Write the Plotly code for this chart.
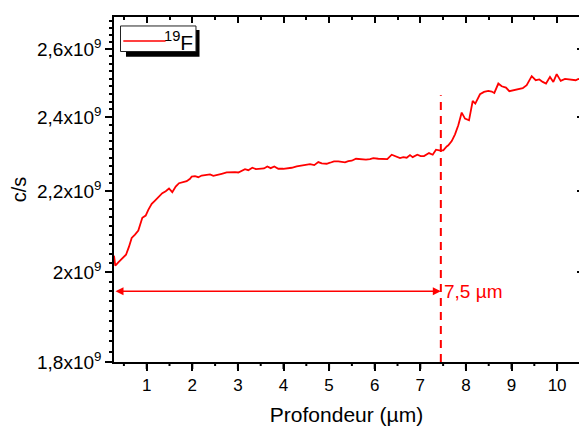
import numpy as np
import plotly.graph_objects as go

# ---- data ----
depth_um = [0.283, 0.311, 0.377, 0.474, 0.546, 0.612, 0.671, 0.743, 0.816, 0.904,
            0.978, 1.035, 1.110, 1.182, 1.254, 1.342, 1.417, 1.489, 1.561, 1.636,
            1.708, 1.781, 1.877, 1.950, 1.987, 2.059, 2.132, 2.206, 2.316, 2.388,
            2.461, 2.535, 2.645, 2.754, 2.827, 2.864, 2.936, 3.009, 3.083, 3.156,
            3.228, 3.316, 3.397, 3.485, 3.572, 3.645, 3.719, 3.798, 3.886, 3.996,
            4.105, 4.180, 4.289, 4.399, 4.493, 4.581, 4.675, 4.763, 4.838, 4.947,
            5.020, 5.107, 5.202, 5.349, 5.421, 5.496, 5.590, 5.678, 5.809, 5.897,
            5.969, 6.079, 6.189, 6.276, 6.373, 6.461, 6.555, 6.627, 6.702, 6.774,
            6.833, 6.934, 7.009, 7.081, 7.191, 7.272, 7.344, 7.417, 7.504, 7.579,
            7.614, 7.689, 7.761, 7.833, 7.908, 7.980, 8.068, 8.149, 8.206, 8.309,
            8.397, 8.491, 8.566, 8.623, 8.711, 8.785, 8.879, 8.952, 9.039, 9.149,
            9.246, 9.333, 9.443, 9.531, 9.610, 9.684, 9.757, 9.844, 9.917, 9.991,
            10.079, 10.173, 10.246, 10.333, 10.408, 10.465, 10.52]

counts_e9 = [2.0396, 2.0156, 2.0235, 2.0355, 2.0419, 2.0613, 2.0826, 2.0907, 2.1006, 2.1323,
             2.1381, 2.1525, 2.1676, 2.1761, 2.1846, 2.1950, 2.2001, 2.2071, 2.1975, 2.2123,
             2.2209, 2.2235, 2.2262, 2.2325, 2.2385, 2.2393, 2.2366, 2.2411, 2.2419, 2.2438,
             2.2404, 2.2419, 2.2457, 2.2491, 2.2499, 2.2491, 2.2499, 2.2491, 2.2525, 2.2578,
             2.2552, 2.2616, 2.2578, 2.2589, 2.2597, 2.2651, 2.2605, 2.2651, 2.2589, 2.2589,
             2.2597, 2.2616, 2.2651, 2.2670, 2.2686, 2.2712, 2.2686, 2.2766, 2.2731, 2.2723,
             2.2750, 2.2785, 2.2785, 2.2758, 2.2793, 2.2804, 2.2857, 2.2839, 2.2831, 2.2847,
             2.2873, 2.2857, 2.2847, 2.2847, 2.2965, 2.2919, 2.2873, 2.2900, 2.2884, 2.2954,
             2.2900, 2.2965, 2.2927, 2.2927, 2.3009, 2.2965, 2.3101, 2.3082, 2.3082, 2.3191,
             2.3219, 2.3337, 2.3521, 2.3772, 2.4131, 2.3961, 2.3913, 2.4462, 2.4388, 2.4657,
             2.4724, 2.4753, 2.4736, 2.4695, 2.4969, 2.4890, 2.4852, 2.4745, 2.4774, 2.4812,
             2.4832, 2.4920, 2.5186, 2.5067, 2.5088, 2.5017, 2.4969, 2.5165, 2.5017, 2.5246,
             2.5046, 2.5106, 2.5088, 2.5067, 2.5067, 2.5106, 2.5080]
counts = [v * 1e9 for v in counts_e9]

x_tickvals = [1, 2, 3, 4, 5, 6, 7, 8, 9, 10]
x_minor = [0.5, 1.5, 2.5, 3.5, 4.5, 5.5, 6.5, 7.5, 8.5, 9.5]
y_tickvals = [1.8e9, 2.0e9, 2.2e9, 2.4e9, 2.6e9]
y_ticktext = ["1,8x10<sup>9</sup>", "2x10<sup>9</sup>", "2,2x10<sup>9</sup>",
              "2,4x10<sup>9</sup>", "2,6x10<sup>9</sup>"]
x_range = [0.283, 10.48]
y_range = [1.8e9, 2.7e9]
y_minor = [1.8e9 + k * 0.2e9 / 9 for k in range(1, 41) if k % 9 != 0]

interface_depth = 7.45
interface_top = 2.463e9
arrow_level = 1.956e9
interface_label = "7,5 µm"
legend_label = "<sup>19</sup>F"
x_title = "Profondeur (µm)"
y_title = "c/s"

RED = "#FF0000"
FONT = "Arial, Liberation Sans, sans-serif"
log_range = [np.log10(y_range[0]), np.log10(y_range[1])]
PLOT_H = 426 - 17 - 64

fig = go.Figure()
fig.add_trace(go.Scatter(x=depth_um, y=counts, mode="lines",
                         line=dict(color=RED, width=1.8), showlegend=False,
                         hoverinfo="skip"))
fig.add_trace(go.Scatter(x=[interface_depth, interface_depth],
                         y=[y_range[0], interface_top], mode="lines",
                         line=dict(color=RED, width=2, dash="8px,6px"),
                         showlegend=False, hoverinfo="skip"))
# invisible carriers so that the extra tick axes get drawn
for xa, ya in [("x2", "y"), ("x4", "y"), ("x", "y2"), ("x", "y3")]:
    fig.add_trace(go.Scatter(x=depth_um, y=counts, xaxis=xa, yaxis=ya, mode="lines",
                             line=dict(width=0), opacity=0, showlegend=False,
                             hoverinfo="skip"))

# bottom-axis tick marks (outside, pointing down)
for xv in x_tickvals:
    fig.add_shape(type="line", xref="x", yref="paper", x0=xv, x1=xv,
                  y0=0, y1=-7 / PLOT_H, line=dict(color="black", width=2))
for xv in x_minor:
    fig.add_shape(type="line", xref="x", yref="paper", x0=xv, x1=xv,
                  y0=0, y1=-4 / PLOT_H, line=dict(color="black", width=2))

# double arrow
fig.add_annotation(x=interface_depth, y=np.log10(arrow_level), xref="x", yref="y",
                   ax=x_range[0], ay=np.log10(arrow_level), axref="x", ayref="y",
                   text="", showarrow=True, arrowhead=2, arrowside="end+start",
                   arrowsize=1, arrowwidth=1.6, arrowcolor=RED)
fig.add_annotation(x=interface_depth, y=np.log10(arrow_level), xref="x", yref="y",
                   text=interface_label, showarrow=False, xanchor="left",
                   yanchor="middle", xshift=1,
                   font=dict(family=FONT, size=19, color=RED))

# legend drawn by hand (with shadow)
fig.add_shape(type="rect", xref="paper", yref="paper", x0=0.0258, x1=0.1839,
              y0=0.885, y1=0.962, fillcolor="black", line=dict(width=0))
fig.add_shape(type="rect", xref="paper", yref="paper", x0=0.014, x1=0.1763,
              y0=0.900, y1=0.974, fillcolor="white", line=dict(color="#222", width=1))
fig.add_shape(type="line", xref="paper", yref="paper", x0=0.020, x1=0.111,
              y0=0.9304, y1=0.9304, line=dict(color=RED, width=1.6))
fig.add_annotation(x=0.1745, y=0.930, xref="paper", yref="paper", text=legend_label,
                   showarrow=False, xanchor="right", yanchor="middle",
                   font=dict(family=FONT, size=21, color="black"))

base = dict(showgrid=False, zeroline=False, automargin=False, tickcolor="black",
            tickwidth=2, linecolor="black", linewidth=1.5)

fig.update_layout(
    template="none",
    width=579, height=426,
    margin=dict(l=114, r=0, t=17, b=64),
    paper_bgcolor="white", plot_bgcolor="white",
    font=dict(family=FONT, color="black"),
    xaxis=dict(range=x_range, tickmode="array", tickvals=x_tickvals,
               ticks="outside", ticklen=7, showline=True,
               tickfont=dict(size=17), title=dict(text=x_title, font=dict(size=21),
                                                   standoff=21),
               **base),
    xaxis2=dict(range=x_range, overlaying="x", side="top", anchor="y",
                tickmode="array", tickvals=x_tickvals, ticks="inside", ticklen=6,
                showticklabels=False, showline=True, **base),
    xaxis4=dict(range=x_range, overlaying="x", side="top", anchor="y",
                tickmode="array", tickvals=x_minor, ticks="inside", ticklen=3,
                showticklabels=False, showline=False, **base),
    yaxis=dict(type="log", range=log_range,
               tickmode="array", tickvals=y_tickvals, ticktext=y_ticktext,
               ticks="outside", ticklen=7, showline=True,
               tickfont=dict(size=19), title=dict(text=y_title, font=dict(size=20),
                                                   standoff=5),
               **base),
    yaxis2=dict(type="log", range=log_range,
                overlaying="y", side="right", anchor="x", tickmode="array",
                tickvals=y_tickvals, ticks="inside", ticklen=2,
                showticklabels=False, showline=False, **base),
    yaxis3=dict(type="log", range=log_range,
                overlaying="y", side="left", anchor="x", tickmode="array",
                tickvals=y_minor, ticks="outside", ticklen=4,
                showticklabels=False, showline=False, **base),
)

fig.write_html("out.html", config={"displayModeBar": False},
               post_script="document.body.style.margin='0px';")
